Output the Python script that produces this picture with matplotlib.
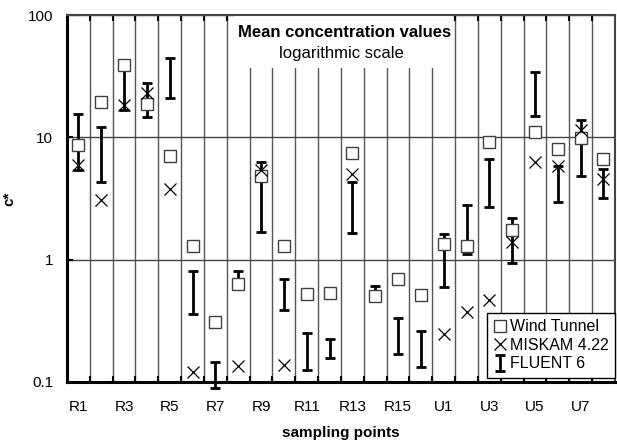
import numpy as np
import matplotlib
matplotlib.use('Agg')
import matplotlib.pyplot as plt
from matplotlib.patches import Rectangle

plt.rcParams['font.family'] = ['Liberation Sans', 'DejaVu Sans']

# sampling points
points = ['R1', 'R2', 'R3', 'R4', 'R5', 'R6', 'R7', 'R8', 'R9', 'R10', 'R11', 'R12',
          'R13', 'R14', 'R15', 'R16', 'U1', 'U2', 'U3', 'U4', 'U5', 'U6', 'U7', 'U8']

# mean concentrations
wind_tunnel = [8.7, 19.6, 39.0, 18.7, 7.0, 1.30, 0.31, 0.63, 4.85, 1.29, 0.52, 0.53,
               7.5, 0.50, 0.69, 0.51, 1.35, 1.29, 9.2, 1.75, 11.1, 8.1, 9.8, 6.6]
miskam = [5.9, 3.1, 18.4, 23.2, 3.8, 0.12, np.nan, 0.135, 5.4, 0.137, np.nan, np.nan,
          5.0, np.nan, np.nan, np.nan, 0.245, 0.37, 0.47, 1.40, 6.3, 5.8, 11.5, 4.6]
fluent_low = [5.4, 4.3, 16.8, 14.8, 20.9, 0.36, 0.089, 0.62, 1.68, 0.39, 0.124, 0.155,
              1.66, 0.51, 0.167, 0.131, 0.60, 1.12, 2.68, 0.94, 15.0, 2.97, 4.8, 3.17]
fluent_high = [15.6, 12.2, 36.0, 28.1, 45.0, 0.80, 0.144, 0.80, 6.3, 0.69, 0.25, 0.223,
               4.3, 0.61, 0.334, 0.261, 1.62, 2.80, 6.6, 2.19, 34.5, 5.8, 13.9, 5.5]

x = np.arange(len(points))
low = np.array(fluent_low)
high = np.array(fluent_high)

fig = plt.figure(figsize=(6.17, 4.46), dpi=100)
ax = fig.add_axes([0.1086, 0.1442, 0.888, 0.8215])

ax.set_yscale('log')
ax.set_ylim(0.1, 100)
ax.set_xlim(-0.5, len(points) - 0.5)

# FLUENT ranges as bars with caps
eb = ax.errorbar(x, low, yerr=[np.zeros_like(low), high - low], fmt='none',
                 ecolor='black', elinewidth=2, capsize=3.5, capthick=2,
                 label='FLUENT 6', zorder=4)
for art in eb.lines[1] + eb.lines[2]:
    art.set_clip_on(False)
ax.plot(x, wind_tunnel, ls='none', marker='s', markersize=8.5, mfc='white',
        mec='#404040', mew=1, label='Wind Tunnel', zorder=5)
ax.plot(x, miskam, ls='none', marker='x', markersize=8.5, color='black',
        mew=0.9, label='MISKAM 4.22', zorder=6)

# vertical separators at boundaries, labels on every other point
ax.set_xticks(x[1:] - 0.5)
ax.set_xticklabels([])
ax.set_xticks(x[::2], minor=True)
ax.set_xticklabels(points[::2], minor=True)
ax.tick_params(axis='x', which='major', direction='in', length=4, width=1.5,
               top=True, colors='black')
ax.tick_params(axis='x', which='minor', length=0, pad=13, labelsize=11)
ax.xaxis.grid(True, which='major', color='#555555', lw=1)

ax.set_yticks([0.1, 1, 10, 100])
ax.set_yticklabels(['0.1', '1', '10', '100'])
ax.yaxis.set_minor_locator(matplotlib.ticker.NullLocator())
ax.tick_params(axis='y', direction='in', length=4, width=1.5, pad=10, labelsize=11)
ax.yaxis.grid(True, which='major', color='#444444', lw=1)

for s in ['left', 'bottom']:
    ax.spines[s].set_linewidth(2.2)
    ax.spines[s].set_color('black')
for s in ['top', 'right']:
    ax.spines[s].set_linewidth(1.5)
    ax.spines[s].set_color('#444444')

# title box
ax.add_patch(Rectangle((0.3066, 0.856), 0.396, 0.144, transform=ax.transAxes,
                       facecolor='white', edgecolor='none', zorder=2))
ax.text(0.507, 0.952, 'Mean concentration values', transform=ax.transAxes,
        ha='center', va='center', fontsize=12, fontweight='bold', zorder=3)
ax.text(0.50, 0.896, 'logarithmic scale', transform=ax.transAxes,
        ha='center', va='center', fontsize=12, zorder=3)

ax.set_ylabel('c*', fontsize=11, fontweight='bold')
ax.yaxis.set_label_coords(-0.093, 0.5)
ax.set_xlabel('sampling points', fontsize=11, fontweight='bold', labelpad=9)

handles, labels = ax.get_legend_handles_labels()
order = [labels.index('Wind Tunnel'), labels.index('MISKAM 4.22'), labels.index('FLUENT 6')]
leg = ax.legend([handles[i] for i in order], [labels[i] for i in order],
                loc='lower right', bbox_to_anchor=(1.0, 0.011), fontsize=11.5,
                fancybox=False, framealpha=1, edgecolor='black',
                handlelength=0.8, handletextpad=0.2, borderpad=0.4,
                labelspacing=0.22, borderaxespad=0)
leg.get_frame().set_linewidth(1)
leg.set_zorder(10)

fig.savefig('out.png', dpi=100)
